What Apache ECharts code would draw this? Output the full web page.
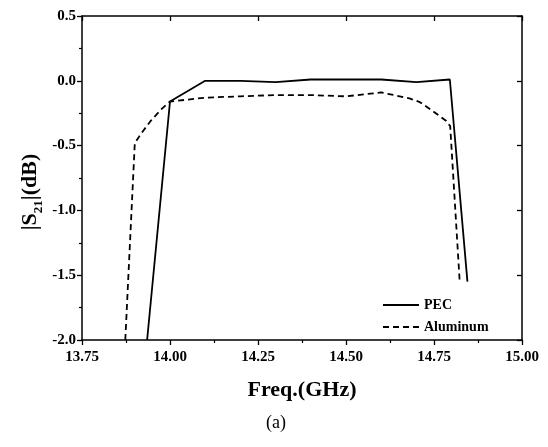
<!DOCTYPE html>
<html>
<head>
<meta charset="utf-8">
<script src="https://cdn.jsdelivr.net/npm/echarts@6/dist/echarts.min.js"></script>
<style>
html,body{margin:0;padding:0;background:#fff;}
#chart{width:548px;height:447px;}
</style>
</head>
<body>
<div id="chart"></div>
<script>
// PEC (solid)
const pecFreq = [13.935, 14.00, 14.10, 14.20, 14.30, 14.40, 14.50, 14.60, 14.70, 14.795, 14.845];
const pecS21  = [-2.00, -0.16, 0.00, 0.00, -0.01, 0.01, 0.01, 0.01, -0.01, 0.01, -1.55];
// Aluminum (dashed)
const alFreq = [13.873, 13.90, 13.92, 13.945, 13.975, 14.00, 14.10, 14.20, 14.30, 14.40, 14.50, 14.60, 14.68, 14.71, 14.75, 14.785, 14.796, 14.823];
const alS21  = [-2.00, -0.48, -0.40, -0.31, -0.22, -0.16, -0.13, -0.12, -0.11, -0.11, -0.12, -0.09, -0.135, -0.165, -0.24, -0.31, -0.35, -1.55];
const xTicks = [13.75, 14.00, 14.25, 14.50, 14.75, 15.00];
const yTicks = [-2.0, -1.5, -1.0, -0.5, 0.0, 0.5];
const seriesNames = ['PEC', 'Aluminum'];

const zip = (a, b) => a.map((v, i) => [v, b[i]]);
const font = '"Liberation Serif", "Times New Roman", serif';
const chart = echarts.init(document.getElementById('chart'), null, {renderer: 'canvas'});

const axisLine = {show: true, onZero: false, lineStyle: {color: '#000', width: 1.5}};
const option = {
  backgroundColor: '#fff',
  animation: false,
  grid: {left: 82, right: 26, top: 16, bottom: 107},
  legend: {
    orient: 'vertical', left: 377, top: 293, itemWidth: 36, itemHeight: 14, itemGap: 8,
    data: seriesNames,
    itemStyle: {opacity: 0},
    textStyle: {fontFamily: font, fontWeight: 'bold', fontSize: 14, color: '#000'}
  },
  xAxis: [{
    type: 'value', min: xTicks[0], max: xTicks[xTicks.length - 1], interval: 0.25,
    position: 'bottom',
    axisLine: axisLine,
    axisTick: {show: true, inside: false, length: 5, lineStyle: {color: '#000', width: 1.3}},
    minorTick: {show: true, splitNumber: 2, length: 3, lineStyle: {color: '#000', width: 1.2}},
    splitLine: {show: false},
    axisLabel: {margin: 10, fontFamily: font, fontWeight: 'bold', fontSize: 15, color: '#000',
      formatter: v => v.toFixed(2)}
  }, {
    type: 'value', min: xTicks[0], max: xTicks[xTicks.length - 1], interval: 0.25,
    position: 'top',
    axisLine: axisLine,
    axisTick: {show: true, inside: true, length: 5, lineStyle: {color: '#000', width: 1.3}},
    splitLine: {show: false},
    axisLabel: {show: false}
  }],
  yAxis: [{
    type: 'value', min: yTicks[0], max: yTicks[yTicks.length - 1], interval: 0.5,
    position: 'left',
    axisLine: axisLine,
    axisTick: {show: true, inside: false, length: 5, lineStyle: {color: '#000', width: 1.3}},
    minorTick: {show: true, splitNumber: 2, length: 3, lineStyle: {color: '#000', width: 1.2}},
    splitLine: {show: false},
    axisLabel: {margin: 6, fontFamily: font, fontWeight: 'bold', fontSize: 15, color: '#000',
      formatter: v => v.toFixed(1)}
  }, {
    type: 'value', min: yTicks[0], max: yTicks[yTicks.length - 1], interval: 0.5,
    position: 'right',
    axisLine: axisLine,
    axisTick: {show: true, inside: true, length: 5, lineStyle: {color: '#000', width: 1.3}},
    splitLine: {show: false},
    axisLabel: {show: false}
  }],
  series: [{
    name: seriesNames[0], type: 'line', xAxisIndex: 0, yAxisIndex: 0,
    data: zip(pecFreq, pecS21), symbol: 'none', clip: true,
    lineStyle: {color: '#000', width: 1.8, type: 'solid'}, itemStyle: {color: '#000'}
  }, {
    name: seriesNames[1], type: 'line', xAxisIndex: 0, yAxisIndex: 0,
    data: zip(alFreq, alS21), symbol: 'none', clip: true,
    lineStyle: {color: '#000', width: 1.8, type: [6, 4]}, itemStyle: {color: '#000'}
  }],
  graphic: [{
    type: 'text', x: 302, y: 390,
    style: {text: 'Freq.(GHz)', fontFamily: font, fontWeight: 'bold', fontSize: 22, fill: '#000',
      align: 'center', verticalAlign: 'middle'}
  }, {
    type: 'text', x: 30, y: 192, rotation: Math.PI / 2,
    style: {text: '{a||S}{b|21}{a||(dB)}', fontFamily: font, fontWeight: 'bold', fill: '#000',
      align: 'center', verticalAlign: 'middle',
      rich: {
        a: {fontFamily: font, fontWeight: 'bold', fontSize: 22, lineHeight: 26, fill: '#000'},
        b: {fontFamily: font, fontWeight: 'bold', fontSize: 13, lineHeight: 13, verticalAlign: 'bottom', fill: '#000', padding: [0, 0, -2, 0]}
      }}
  }, {
    type: 'text', x: 276, y: 423,
    style: {text: '(a)', fontFamily: font, fontSize: 18, fill: '#000', align: 'center', verticalAlign: 'middle'}
  }]
};
chart.setOption(option);
</script>
</body>
</html>
